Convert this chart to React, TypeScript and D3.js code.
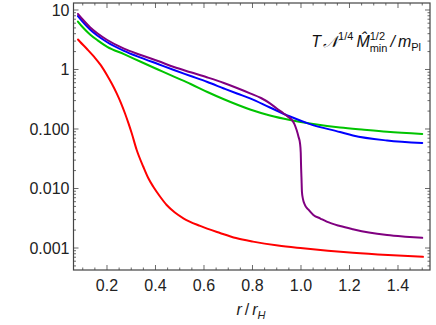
import React from 'react';
import * as d3 from 'd3';

const W = 436;
const H = 325;

// tick labels
const xMajor = [0.2, 0.4, 0.6, 0.8, 1.0, 1.2, 1.4];
const xMajorLabels = ['0.2', '0.4', '0.6', '0.8', '1.0', '1.2', '1.4'];
const yMajor = [10, 1, 0.1, 0.01, 0.001];
const yMajorLabels = ['10', '1', '0.100', '0.010', '0.001'];

// series (r / r_H, value)
const purpleR = [0.08, 0.10, 0.13, 0.16, 0.201, 0.27, 0.339, 0.41, 0.476, 0.545, 0.614, 0.682, 0.736, 0.79, 0.835, 0.872, 0.9, 0.927, 0.945, 0.962, 0.973, 0.982, 0.99, 0.996, 0.999, 1.0, 1.002, 1.004, 1.008, 1.016, 1.03, 1.051, 1.08, 1.106, 1.161, 1.214, 1.28, 1.355, 1.43, 1.5];
const purpleV = [8.6, 6.92, 5.14, 4.06, 3.13, 2.24, 1.75, 1.39, 1.10, 0.897, 0.734, 0.593, 0.489, 0.398, 0.332, 0.27, 0.221, 0.184, 0.162, 0.142, 0.121, 0.096, 0.0734, 0.0575, 0.0398, 0.0265, 0.0151, 0.0087, 0.0067, 0.0053, 0.00444, 0.0036, 0.00313, 0.00277, 0.00234, 0.00207, 0.00182, 0.00165, 0.00155, 0.00148];

const blueR = [0.08, 0.10, 0.13, 0.16, 0.201, 0.27, 0.339, 0.41, 0.476, 0.545, 0.614, 0.682, 0.736, 0.79, 0.872, 0.955, 1.037, 1.161, 1.214, 1.355, 1.5];
const blueV = [7.9, 6.34, 4.70, 3.72, 2.87, 2.06, 1.585, 1.236, 0.98, 0.778, 0.617, 0.48, 0.395, 0.328, 0.23, 0.162, 0.121, 0.089, 0.0778, 0.0641, 0.0582];

const greenR = [0.08, 0.10, 0.13, 0.16, 0.201, 0.27, 0.339, 0.41, 0.476, 0.545, 0.614, 0.682, 0.79, 0.872, 0.955, 1.037, 1.161, 1.26, 1.355, 1.5];
const greenV = [6.4, 5.12, 3.89, 3.12, 2.41, 1.81, 1.35, 1.0, 0.757, 0.57, 0.419, 0.316, 0.213, 0.169, 0.142, 0.124, 0.106, 0.097, 0.0897, 0.0824];

const redR = [0.0804, 0.0887, 0.1175, 0.1464, 0.175, 0.202, 0.2206, 0.24, 0.2577, 0.274, 0.2887, 0.302, 0.3225, 0.3497, 0.369, 0.391, 0.4186, 0.446, 0.48, 0.515, 0.584, 0.666, 0.732, 0.802, 0.905, 1.008, 1.111, 1.214, 1.359, 1.503];
const redV = [3.19, 2.93, 2.21, 1.64, 1.17, 0.778, 0.571, 0.398, 0.273, 0.184, 0.124, 0.0847, 0.0444, 0.0232, 0.0153, 0.0107, 0.00734, 0.00528, 0.00395, 0.00316, 0.00235, 0.00179, 0.00147, 0.00128, 0.0011, 0.00099, 0.0009, 0.00083, 0.00076, 0.00071];

const series = [
  { r: greenR, v: greenV, color: '#00c400' },
  { r: redR, v: redV, color: '#ff0000' },
  { r: blueR, v: blueV, color: '#0000ff' },
  { r: purpleR, v: purpleV, color: '#800080' },
];

const left = 73.5;
const right = 430;
const top = 3;
const bottom = 270;

export default function App() {
  const x = d3.scaleLinear().domain([0.06186, 1.532]).range([left, right]);
  const y = d3.scaleLog().domain([Math.pow(10, -3.3697), Math.pow(10, 1.1176)]).range([bottom, top]);

  const line = d3
    .line<[number, number]>()
    .x((d) => x(d[0]))
    .y((d) => y(d[1]))
    .curve(d3.curveMonotoneX);

  const xMinor: number[] = [];
  for (let i = 2; i <= 30; i++) {
    const v = i * 0.05;
    if (Math.abs(v / 0.2 - Math.round(v / 0.2)) > 1e-6) xMinor.push(v);
  }
  const yMinor: number[] = [];
  for (let d = -4; d <= 1; d++) {
    for (let m = 2; m <= 9; m++) {
      const v = m * Math.pow(10, d);
      const py = y(v);
      if (py > top + 0.5 && py < bottom - 0.5) yMinor.push(v);
    }
  }

  const frame = '#444';
  const font = "'Liberation Sans', Arial, sans-serif";
  const majorLen = 5;
  const minorLen = 2.5;

  return (
    <svg width={W} height={H} style={{ position: 'absolute', left: 0, top: 0, background: '#fff' }}>
      <rect x={0} y={0} width={W} height={H} fill="#fff" />
      {/* curves */}
      <g fill="none" strokeWidth={2} strokeLinejoin="round" strokeLinecap="round">
        {series.map((s, i) => (
          <path
            key={i}
            d={line(s.r.map((r, j) => [r, s.v[j]] as [number, number])) || ''}
            stroke={s.color}
          />
        ))}
      </g>
      {/* frame */}
      <rect x={left} y={top} width={right - left} height={bottom - top} fill="none" stroke={frame} strokeWidth={1.2} />
      {/* ticks */}
      <g stroke={frame} strokeWidth={0.8}>
        {xMajor.map((v, i) => (
          <g key={'xM' + i}>
            <line x1={x(v)} x2={x(v)} y1={bottom} y2={bottom - majorLen} />
            <line x1={x(v)} x2={x(v)} y1={top} y2={top + majorLen} />
          </g>
        ))}
        {xMinor.map((v, i) => (
          <g key={'xm' + i}>
            <line x1={x(v)} x2={x(v)} y1={bottom} y2={bottom - minorLen} />
            <line x1={x(v)} x2={x(v)} y1={top} y2={top + minorLen} />
          </g>
        ))}
        {yMajor.map((v, i) => (
          <g key={'yM' + i}>
            <line x1={left} x2={left + majorLen} y1={y(v)} y2={y(v)} />
            <line x1={right} x2={right - majorLen} y1={y(v)} y2={y(v)} />
          </g>
        ))}
        {yMinor.map((v, i) => (
          <g key={'ym' + i}>
            <line x1={left} x2={left + minorLen} y1={y(v)} y2={y(v)} />
            <line x1={right} x2={right - minorLen} y1={y(v)} y2={y(v)} />
          </g>
        ))}
      </g>
      {/* tick labels */}
      <g fontFamily={font} fontSize={16} fill="#222">
        {xMajor.map((v, i) => (
          <text key={'xl' + i} x={x(v)} y={291} textAnchor="middle">
            {xMajorLabels[i]}
          </text>
        ))}
        {yMajor.map((v, i) => (
          <text key={'yl' + i} x={69.5} y={y(v) + 5.8} textAnchor="end">
            {yMajorLabels[i]}
          </text>
        ))}
      </g>
      {/* x axis label */}
      <text x={251} y={315} textAnchor="middle" fontFamily={font} fontSize={16} fill="#222">
        <tspan fontStyle="italic">r</tspan>
        <tspan dx={3}>/</tspan>
        <tspan dx={3} fontStyle="italic">r</tspan>
        <tspan fontStyle="italic" fontSize={11} dy={4}>H</tspan>
      </text>
      {/* plot label */}
      <text x={421} y={47} textAnchor="end" fontFamily={font} fontSize={16} fill="#111">
        <tspan fontStyle="italic">T</tspan>
        <tspan dx={2} fontStyle="italic">𝒩</tspan>
        <tspan fontSize={11} dy={-7}>1/4</tspan>
        <tspan dx={3} dy={7} fontStyle="italic">M̂</tspan>
        <tspan fontSize={11} dy={-7}>1/2</tspan>
        <tspan fontSize={11} dx={-15.3} dy={12}>min</tspan>
        <tspan dx={3} dy={-5} fontStyle="italic">/</tspan>
        <tspan dx={3} fontStyle="italic">m</tspan>
        <tspan fontSize={11} dy={4}>Pl</tspan>
      </text>
    </svg>
  );
}
